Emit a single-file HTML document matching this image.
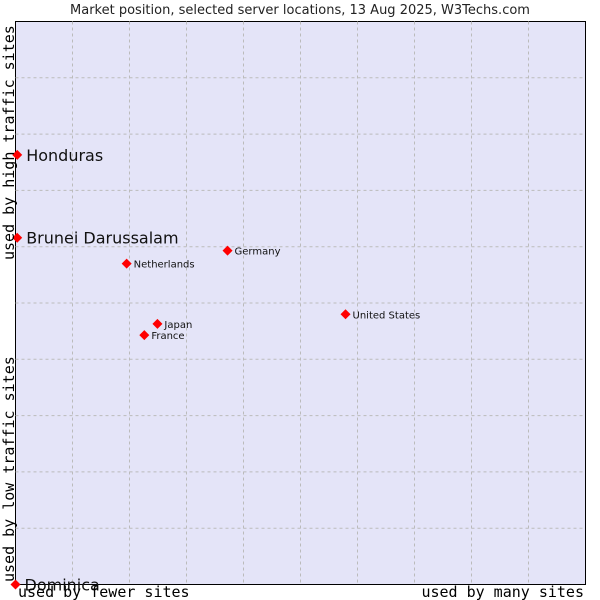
<!DOCTYPE html>
<html><head><meta charset="utf-8"><style>
body{margin:0;background:#fff;width:600px;height:600px;overflow:hidden}
svg{display:block}
</style></head><body>
<svg id="chart" width="600" height="600">
<text x="300" y="14" text-anchor="middle" font-family="DejaVu Sans, sans-serif" font-size="13" fill="#222">Market position, selected server locations, 13 Aug 2025, W3Techs.com</text>
<rect x="15.5" y="21.5" width="570" height="563" fill="#e4e4f8" stroke="#000"/>
<g id="grid"></g>
<g id="marks"></g>
<text transform="translate(14,260) rotate(-90)" font-family="DejaVu Sans Mono, Liberation Mono, monospace" font-size="15" fill="#000">used by high traffic sites</text>
<text transform="translate(14,582) rotate(-90)" font-family="DejaVu Sans Mono, Liberation Mono, monospace" font-size="15" fill="#000">used by low traffic sites</text>
<text x="18" y="597" font-family="DejaVu Sans Mono, Liberation Mono, monospace" font-size="15" fill="#000">used by fewer sites</text>
<text x="584" y="597" text-anchor="end" font-family="DejaVu Sans Mono, Liberation Mono, monospace" font-size="15" fill="#000">used by many sites</text>
</svg>
<script>
const names=["Honduras","Brunei Darussalam","Dominica","Netherlands","Germany","Japan","France","United States"];
const xVals=[0.3,0.3,0,19.5,37.2,24.9,22.6,57.9];
const yVals=[76.3,61.6,0,57.0,59.3,46.3,44.3,48.0];
const big=[true,true,true,false,false,false,false,false];
const ns="http://www.w3.org/2000/svg";
const L=15.5,R=585.5,T=21.5,B=584.5;
const sx=v=>L+(R-L)*v/100, sy=v=>B-(B-T)*v/100;
const grid=document.getElementById('grid'), marks=document.getElementById('marks');
for(let i=1;i<10;i++){
 const v=document.createElementNS(ns,'line');
 v.setAttribute('x1',sx(i*10));v.setAttribute('x2',sx(i*10));v.setAttribute('y1',T);v.setAttribute('y2',B);
 v.setAttribute('stroke','#bbb');v.setAttribute('stroke-dasharray','3,3');
 
 
 grid.appendChild(v);
 const h=document.createElementNS(ns,'line');
 h.setAttribute('y1',sy(i*10));h.setAttribute('y2',sy(i*10));h.setAttribute('x1',L);h.setAttribute('x2',R);
 h.setAttribute('stroke','#bbb');h.setAttribute('stroke-dasharray','3,3');
 
 
 grid.appendChild(h);
}
names.forEach((n,i)=>{
 const x=sx(xVals[i]),y=sy(yVals[i]);
 const p=document.createElementNS(ns,'path');
 p.setAttribute('d',`M${x-5},${y}L${x},${y-5}L${x+5},${y}L${x},${y+5}Z`);
 p.setAttribute('fill','#f00');
 
 
 marks.appendChild(p);
 const t=document.createElementNS(ns,'text');
 t.setAttribute('x',x+(big[i]?9:7));
 t.setAttribute('y',y+(big[i]?6:4));
 t.setAttribute('font-family','DejaVu Sans, sans-serif');
 t.setAttribute('font-size',big[i]?16:10);
 t.setAttribute('fill','#111');
 t.textContent=n;
 
 
 marks.appendChild(t);
});
</script>
</body></html>
